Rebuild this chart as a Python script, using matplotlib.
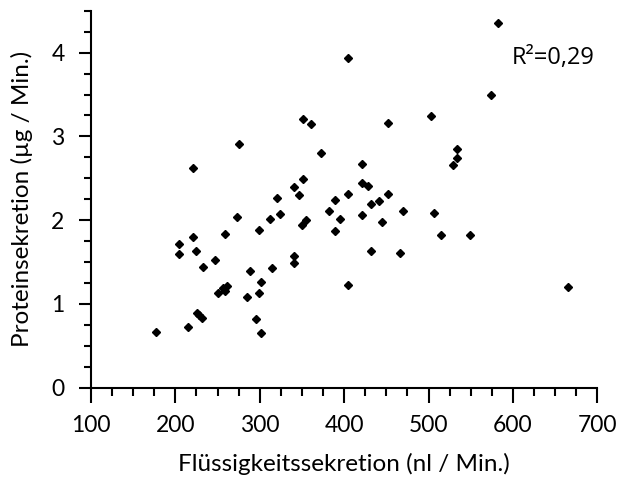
import matplotlib
matplotlib.use("Agg")
import matplotlib.pyplot as plt
import numpy as np
from matplotlib.ticker import MultipleLocator

plt.rcParams['font.family'] = ['Lato', 'DejaVu Sans']

# Flüssigkeitssekretion (nl / Min.)
fluid = [275.4, 221.2, 340.2, 346.4, 320.4, 323.6, 312.1, 273.0, 298.7, 258.4,
         221.2, 204.6, 204.6, 224.1, 232.3, 246.6, 288.0, 314.8, 340.5, 340.2,
         301.8, 250.8, 256.0, 260.8, 259.1, 298.7, 285.2, 225.2, 227.6, 231.2,
         214.9, 177.0, 295.9, 301.8, 404.9, 351.5, 361.0, 452.3, 502.5, 372.9,
         421.4, 533.3, 533.3, 529.3, 351.5, 421.4, 428.2, 404.9, 388.7, 452.3,
         441.6, 431.4, 382.3, 395.4, 388.7, 421.4, 445.1, 470.0, 506.8, 514.7,
         549.4, 355.1, 349.6, 431.4, 466.5, 404.9, 582.6, 573.9, 664.8]
# Proteinsekretion (µg / Min.)
protein = [2.910, 2.624, 2.393, 2.302, 2.267, 2.071, 2.008, 2.040, 1.886, 1.838,
           1.794, 1.714, 1.600, 1.636, 1.445, 1.529, 1.393, 1.433, 1.576, 1.493,
           1.267, 1.131, 1.195, 1.214, 1.151, 1.131, 1.083, 0.886, 0.862, 0.838,
           0.719, 0.663, 0.826, 0.655, 3.933, 3.207, 3.151, 3.160, 3.238, 2.798,
           2.671, 2.845, 2.738, 2.655, 2.488, 2.445, 2.410, 2.318, 2.243, 2.314,
           2.223, 2.195, 2.107, 2.017, 1.869, 2.064, 1.981, 2.104, 2.088, 1.826,
           1.826, 2.005, 1.940, 1.631, 1.612, 1.231, 4.350, 3.493, 1.199]

fig = plt.figure(figsize=(6.19, 4.79), dpi=100)
ax = fig.add_axes([0.147, 0.1906, 0.818, 0.787])

ax.plot(fluid, protein, linestyle='none', marker='D', markersize=4.2, color='black')

ax.set_xlim(100, 700)
ax.set_ylim(0, 4.5)
ax.xaxis.set_major_locator(MultipleLocator(100))
ax.xaxis.set_minor_locator(MultipleLocator(25))
ax.yaxis.set_major_locator(MultipleLocator(1))
ax.yaxis.set_minor_locator(MultipleLocator(0.25))

ax.spines['top'].set_visible(False)
ax.spines['right'].set_visible(False)
ax.spines['left'].set_linewidth(1.5)
ax.spines['bottom'].set_linewidth(1.5)

ax.tick_params(axis='x', which='major', length=11, width=1.5, pad=9, labelsize=16.5)
ax.tick_params(axis='x', which='minor', length=6, width=1.5)
ax.tick_params(axis='y', which='major', length=9, width=1.5, pad=10, labelsize=16.5)
ax.tick_params(axis='y', which='minor', length=5, width=1.5)

ax.set_xlabel('Flüssigkeitssekretion (nl / Min.)', fontsize=17.5, labelpad=12)
ax.set_ylabel('Proteinsekretion (µg / Min.)', fontsize=17.5, labelpad=13)

ax.text(697, 3.93, 'R²=0,29', fontsize=17, ha='right', va='center',
        family=['Open Sans', 'DejaVu Sans'])

fig.savefig('out.png', dpi=100)
